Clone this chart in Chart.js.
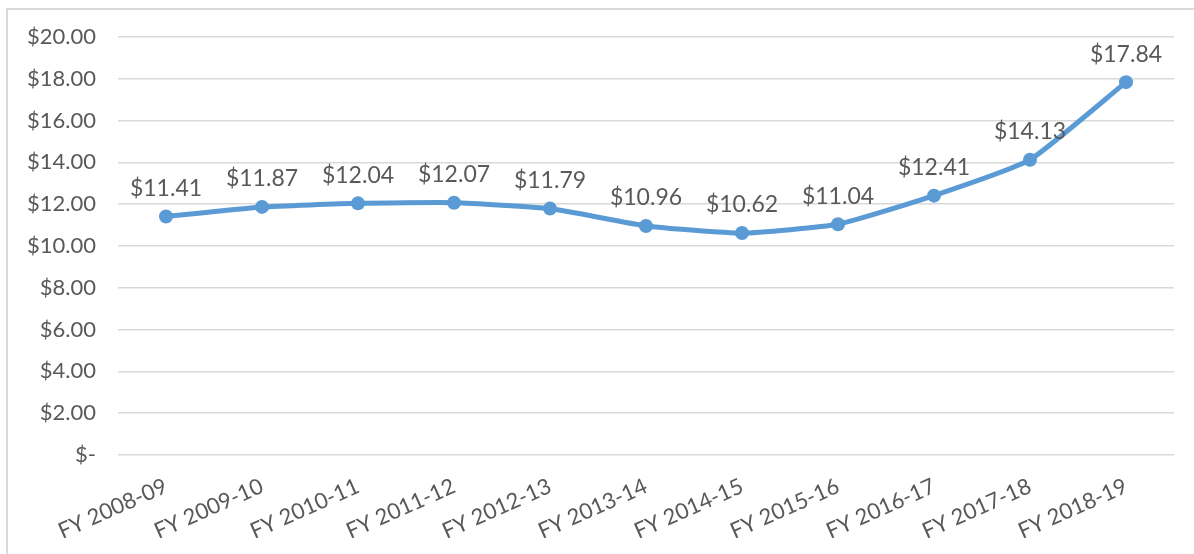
<!DOCTYPE html>
<html>
<head>
<meta charset="utf-8">
<script src="https://cdn.jsdelivr.net/npm/chart.js@4"></script>
<style>
  body { margin: 0; background: #fff; overflow: hidden; }
  #wrap { position: relative; width: 1194px; height: 554px; }
  #frame { position: absolute; left: 6px; top: 8px; width: 1200px; height: 600px; border: 2px solid #d9d9d9; box-sizing: border-box; }
  canvas { position: absolute; left: 0; top: 0; }
</style>
</head>
<body>
<div id="wrap">
  <div id="frame"></div>
  <canvas id="chart" width="1194" height="554"></canvas>
</div>
<script>
// categories and values
const years = ["FY 2008-09", "FY 2009-10", "FY 2010-11", "FY 2011-12", "FY 2012-13", "FY 2013-14",
               "FY 2014-15", "FY 2015-16", "FY 2016-17", "FY 2017-18", "FY 2018-19"];
const costs = [11.41, 11.87, 12.04, 12.07, 11.79, 10.96, 10.62, 11.04, 12.41, 14.13, 17.84];

const FONT = "Lato, 'DejaVu Sans', sans-serif";
const TEXT = "#595959";

function money(v) {
  return v === 0 ? "$-" : "$" + v.toFixed(2);
}

// simple value labels above each point
const pointLabels = {
  id: "pointLabels",
  afterDatasetsDraw(chart) {
    const ctx = chart.ctx;
    const meta = chart.getDatasetMeta(0);
    ctx.save();
    ctx.font = "23px " + FONT;
    ctx.fillStyle = TEXT;
    ctx.textAlign = "center";
    ctx.textBaseline = "middle";
    meta.data.forEach((pt, i) => {
      ctx.fillText(money(costs[i]), pt.x, pt.y - 28);
    });
    ctx.restore();
  }
};

new Chart(document.getElementById("chart"), {
  type: "line",
  data: {
    labels: years,
    datasets: [{
      data: costs,
      borderColor: "#5b9bd5",
      backgroundColor: "#5b9bd5",
      borderWidth: 5,
      pointRadius: 7,
      pointHoverRadius: 7,
      pointBorderWidth: 0,
      tension: 0.15,
      fill: false
    }]
  },
  options: {
    responsive: false,
    animation: false,
    layout: { padding: { top: 37, right: 20, left: 10, bottom: 0 } },
    plugins: { legend: { display: false }, tooltip: { enabled: false } },
    scales: {
      x: {
        offset: true,
        grid: { display: false, drawTicks: false },
        border: { display: false },
        ticks: {
          color: TEXT,
          font: { family: FONT, size: 22 },
          maxRotation: 24,
          minRotation: 24,
          padding: 18
        },
        afterFit(scale) { scale.height = 99; }
      },
      y: {
        min: 0,
        max: 20,
        grid: { color: "#d9d9d9", lineWidth: 1.5, drawTicks: false },
        border: { display: false },
        ticks: {
          stepSize: 2,
          color: TEXT,
          font: { family: FONT, size: 22 },
          padding: 22,
          callback: v => money(v)
        },
        afterFit(scale) { scale.width = 108; }
      }
    }
  },
  plugins: [pointLabels]
});
</script>
</body>
</html>
